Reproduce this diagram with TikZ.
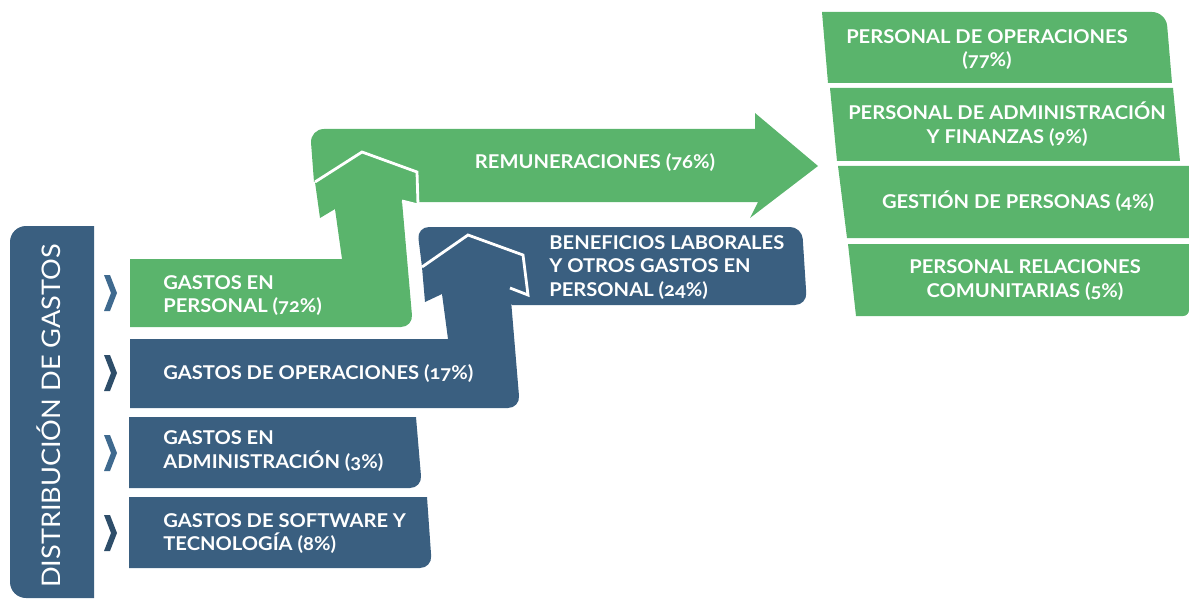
\documentclass[tikz,border=0pt]{standalone}
\usepackage{fontspec}
\setmainfont{Lato}[Numbers=OldStyle,FakeStretch=1.06]
\definecolor{grn}{HTML}{5AB46C}
\definecolor{blu}{HTML}{3A5F80}
\definecolor{chevA}{HTML}{3F6A8F}
\definecolor{chevB}{HTML}{2E4E6A}
\begin{document}
\begin{tikzpicture}[x=0.5pt,y=-0.5pt,
  txt/.style={text=white,font=\fontsize{9.5}{11.75}\selectfont\bfseries,inner sep=0pt},
  ttl/.style={text=white,font=\fontsize{12.8}{14}\selectfont,inner sep=0pt},
  roof/.style={white,line width=1.4pt,line join=miter}]
\useasboundingbox (0,0) rectangle (1189,599);

% left title bar
\fill[blu] (94,598) -- (94,226) [rounded corners=8pt] -- (10,226) -- (10,598) [sharp corners] -- cycle;
\node[ttl,rotate=90] (title) at (49,416) {DISTRIBUCIÓN DE GASTOS};

% chevrons
\foreach \cy/\cc in {293/chevA,373/chevB,453/chevA,533/chevB}{
  \fill[\cc] (104,\cy-18) -- (110,\cy-18) -- (117,\cy) -- (110,\cy+18) -- (104,\cy+18) -- (111,\cy) -- cycle;
}

% green remuneraciones bar
\fill[grn] (314,182) [rounded corners=7pt] -- (310,129) [sharp corners] -- (755,129) -- (755,113) -- (818,166) -- (750,218) -- (758,202) -- (418,202) -- (417,172) -- (362,152) -- cycle;
% green arrow + box 1
\fill[grn] (315,182) -- (362,152) -- (417,172) -- (418,205) -- (402,201) [rounded corners=6pt] -- (413,327) [sharp corners] -- (130,327) -- (130,259) -- (342,259) -- (335,209) -- (320,218) -- cycle;
\draw[roof] (315,182) -- (362,152) -- (417,172) -- (418,205) -- (402,201);

% blue beneficios bar
\fill[blu] (422,267) [rounded corners=6pt] -- (417,227) -- (802,227) -- (807,305) [sharp corners] -- (512,305) -- (468,260) -- cycle;
% blue arrow + box 2
\fill[blu] (422,267) -- (468,235) -- (523,255) -- (528,295) -- (510,288) [rounded corners=6pt] -- (520,408) [sharp corners] -- (130,408) -- (130,339) -- (448,339) -- (442,294) -- (425,302) -- cycle;
\draw[roof] (422,267) -- (468,235) -- (523,255) -- (528,295) -- (510,288);

% boxes 3 and 4
\fill[blu] (129,417) -- (416,417) [rounded corners=6pt] -- (422,488) [sharp corners] -- (129,488) -- cycle;
\fill[blu] (129,497) -- (427,497) [rounded corners=6pt] -- (432,568) [sharp corners] -- (129,568) -- cycle;

% right boxes
\fill[grn] (822,12) [rounded corners=7pt] -- (1166,12) [sharp corners] -- (1172,83) -- (828,83) -- cycle;
\fill[grn] (830,88) -- (1173,88) -- (1180,161) -- (837,161) -- cycle;
\fill[grn] (838,166) -- (1189,166) -- (1189,238) -- (847,238) -- cycle;
\fill[grn] (848,244) -- (1189,244) [rounded corners=3pt] -- (1189,316) [sharp corners] -- (856,316) -- cycle;

% texts
\node[txt,anchor=west,align=left] (t1) at (163,295.5) {GASTOS EN\\PERSONAL (72\%)};
\node[txt,anchor=west,align=left] (t2) at (163,374) {GASTOS DE OPERACIONES (17\%)};
\node[txt,anchor=west,align=left] (t3) at (163,451) {GASTOS EN\\ADMINISTRACIÓN (3\%)};
\node[txt,anchor=west,align=left] (t4) at (163,533.5) {GASTOS DE SOFTWARE Y\\TECNOLOGÍA (8\%)};
\node[txt] (rem) at (595,163) {REMUNERACIONES (76\%)};
\node[txt,anchor=west,align=left] (ben) at (549,267.5) {BENEFICIOS LABORALES\\Y OTROS GASTOS EN\\PERSONAL (24\%)};
\node[txt,align=center] (pa) at (987,49.5) {PERSONAL DE OPERACIONES\\(77\%)};
\node[txt,align=center] (pb) at (1007,124) {PERSONAL DE ADMINISTRACIÓN\\Y FINANZAS (9\%)};
\node[txt,align=center] (pc) at (1018,201) {GESTIÓN DE PERSONAS (4\%)};
\node[txt,align=center] (pd) at (1025,280) {PERSONAL RELACIONES\\COMUNITARIAS (5\%)};
\end{tikzpicture}
\end{document}
